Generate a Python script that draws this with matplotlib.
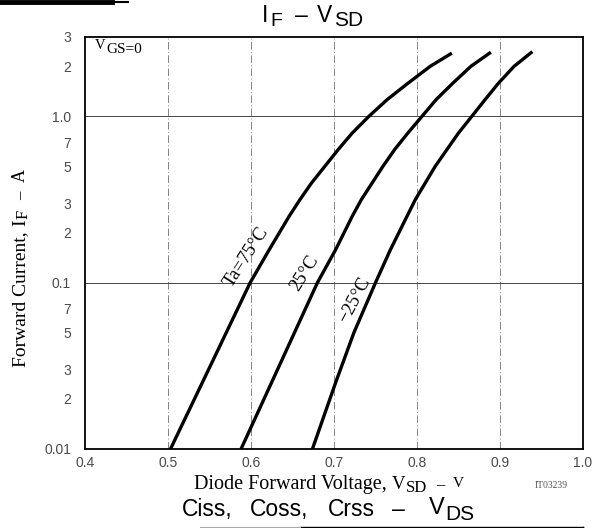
import matplotlib
matplotlib.use('Agg')
import matplotlib.pyplot as plt
from matplotlib.ticker import FixedLocator, FixedFormatter, NullLocator

# ---- data ----
v_75 = [0.503, 0.551, 0.599, 0.622, 0.646, 0.659, 0.673, 0.689, 0.705, 0.722,
        0.742, 0.764, 0.789, 0.816, 0.842]
i_75 = [0.01, 0.0316, 0.10, 0.158, 0.251, 0.316, 0.398, 0.501, 0.631, 0.794,
        1.0, 1.26, 1.58, 2.0, 2.40]

v_25 = [0.588, 0.634, 0.680, 0.702, 0.722, 0.733, 0.746, 0.759, 0.773, 0.789,
        0.806, 0.823, 0.843, 0.865, 0.889]
i_25 = [0.01, 0.0316, 0.10, 0.158, 0.251, 0.316, 0.398, 0.501, 0.631, 0.794,
        1.0, 1.26, 1.58, 2.0, 2.43]

v_m25 = [0.674, 0.702, 0.724, 0.750, 0.768, 0.788, 0.798, 0.810, 0.822, 0.836,
         0.850, 0.866, 0.882, 0.898, 0.917, 0.939]
i_m25 = [0.01, 0.0251, 0.0501, 0.10, 0.158, 0.251, 0.316, 0.398, 0.501, 0.631,
         0.794, 1.0, 1.26, 1.58, 2.0, 2.45]

curve_labels = ['Ta=75°C', '25°C', '\u221225°C']
label_pos_v = [0.594, 0.664, 0.725]
label_pos_i = [0.142, 0.114, 0.0785]
label_rot = [57, 58, 62]

x_ticks = [0.4, 0.5, 0.6, 0.7, 0.8, 0.9, 1.0]
x_tick_labels = ['0.4', '0.5', '0.6', '0.7', '0.8', '0.9', '1.0']
y_ticks = [0.01, 0.02, 0.03, 0.05, 0.07, 0.1, 0.2, 0.3, 0.5, 0.7, 1.0, 2, 3]
y_tick_labels = ['0.01', '2', '3', '5', '7', '0.1', '2', '3', '5', '7', '1.0', '2', '3']
x_grid = [0.5, 0.6, 0.7, 0.8, 0.9]
y_grid = [0.1, 1.0]

W, H = 597, 528
fig = plt.figure(figsize=(W / 100, H / 100), dpi=100)
fig.patch.set_facecolor('white')
renderer = fig.canvas.get_renderer()

L, R, T, B = 85, 583, 37, 449
ax = fig.add_axes([L / W, 1 - B / H, (R - L) / W, (B - T) / H])
ax.set_yscale('log')
ax.set_xlim(0.4, 1.0)
ax.set_ylim(0.01, 3)

for s in ax.spines.values():
    s.set_linewidth(1.3)
    s.set_color('black')

ax.xaxis.set_major_locator(FixedLocator(x_ticks))
ax.xaxis.set_major_formatter(FixedFormatter(x_tick_labels))
ax.xaxis.set_minor_locator(NullLocator())
ax.yaxis.set_major_locator(FixedLocator(y_ticks))
ax.yaxis.set_major_formatter(FixedFormatter(y_tick_labels))
ax.yaxis.set_minor_locator(NullLocator())
ax.tick_params(length=0, labelsize=10, labelcolor='#4a4a4a')
ax.tick_params(axis='x', pad=5)
ax.tick_params(axis='y', pad=10)
for lab in ax.get_xticklabels() + ax.get_yticklabels():
    lab.set_family('Liberation Sans')

for xv in x_grid:
    ax.axvline(xv, color='#707070', lw=0.6, ls=(0, (9, 3, 1, 3)), zorder=1)
for yv in y_grid:
    ax.axhline(yv, color='#444444', lw=0.7, zorder=1)

for v, i in [(v_75, i_75), (v_25, i_25), (v_m25, i_m25)]:
    ax.plot(v, i, color='black', lw=2.4, solid_joinstyle='round',
            solid_capstyle='butt', zorder=3)

for txt, v, i, rot in zip(curve_labels, label_pos_v, label_pos_i, label_rot):
    ax.text(v, i, txt, rotation=rot, ha='center', va='center',
            family='Liberation Serif', fontsize=13.5, zorder=4)

SANS = 'Liberation Sans'
SERIF = 'Liberation Serif'


def flow(pieces, x, y, family, rot=0, color='black'):
    """Lay text pieces one after another, starting at pixel (x, y) on the baseline.
    pieces: (text, fontsize, baseline shift in px, gap before in px)."""
    for text, size, dy, gap in pieces:
        if rot == 0:
            x += gap
            t = fig.text(x / W, 1 - (y + dy) / H, text, fontsize=size, family=family,
                         color=color, ha='left', va='baseline')
            x += t.get_window_extent(renderer).width
        else:
            y -= gap
            t = fig.text((x + dy) / W, 1 - y / H, text, fontsize=size, family=family,
                         color=color, ha='left', va='baseline', rotation=90,
                         rotation_mode='anchor')
            y -= t.get_window_extent(renderer).height


# Title  I_F - V_SD
flow([('I', 16.5, 0, 0), ('F', 14, 4, 2), ('\u2013', 16.5, 0, 13),
      ('V', 16.5, 0, 9), ('SD', 15, 4, 2)], 262, 22, SANS)

# V_GS=0
flow([('V', 10.5, 0, 0), ('GS=0', 11, 4, 1)], 95, 49, SERIF)

# x label
flow([('Diode Forward Voltage,', 14.5, 0, 0), ('V', 13.5, 0, 5), ('SD', 12, 3, 1),
      ('\u2013', 12, 0, 9), ('V', 11, -2, 8)], 194, 489, SERIF)
fig.text(551 / W, 1 - 486 / H, 'IT03239', fontsize=7, family=SERIF, color='#555555',
         ha='center', va='center')

# y label (rotated)
flow([('Forward Current,', 14, 0, 0), ('I', 14, 0, 5), ('F', 12, 3, 1),
      ('\u2013', 12, 0, 10), ('A', 13, 0, 9)], 25, 367, SERIF, rot=90)

# Title of the next chart on the page  Ciss, Coss, Crss - V_DS
flow([('Ciss,', 16.5, 0, 0), ('Coss,', 16.5, 0, 17), ('Crss', 16.5, 0, 20),
      ('\u2013', 16.5, 0, 17), ('V', 17, -2, 24), ('DS', 15, 4, 1)], 182, 516, SANS)

# remnants of neighbouring charts on the scanned page
fig.add_artist(plt.Line2D([0, 112 / W], [1 - 2 / H, 1 - 2 / H], color='black', lw=3.5))
fig.add_artist(plt.Line2D([112 / W, 128 / W], [1 - 1.5 / H, 1 - 1.5 / H], color='black', lw=1.5))
fig.add_artist(plt.Line2D([300 / W, 583 / W], [1 - 526.5 / H, 1 - 526.5 / H], color='black', lw=1.0))
fig.add_artist(plt.Line2D([200 / W, 300 / W], [1 - 526.5 / H, 1 - 526.5 / H], color='#aaaaaa', lw=0.8))
fig.add_artist(plt.Line2D([583 / W, 583 / W], [1 - 526.5 / H, 0], color='black', lw=1.0))

fig.savefig('out.png', dpi=100)
